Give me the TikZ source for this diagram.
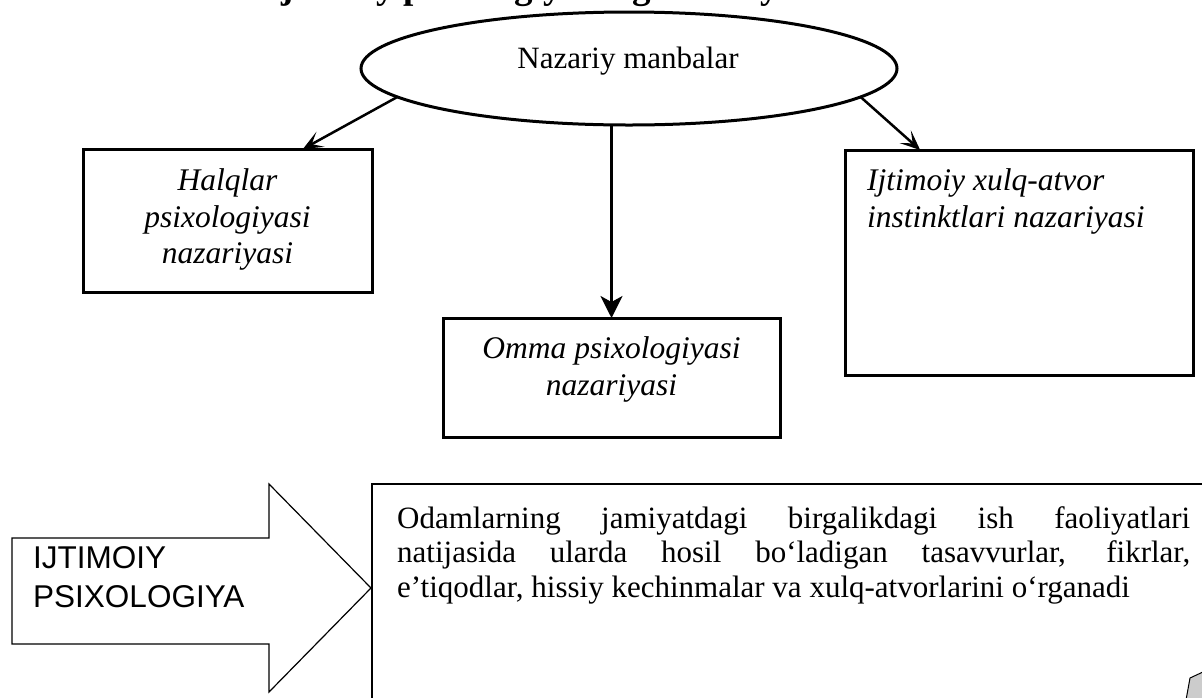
\documentclass[tikz,border=0pt]{standalone}
\usepackage{fontspec}
\setmainfont{Liberation Serif}
\newfontfamily\arialf{Liberation Sans}
\usetikzlibrary{arrows.meta,shapes.geometric,calc}
\begin{document}
\begin{tikzpicture}[x=1pt,y=-1pt,
  boxst/.style={draw,line width=3pt,rectangle,inner sep=0pt,outer sep=0pt},
  itx/.style={font=\fontsize{31.5}{36.5}\selectfont\itshape,anchor=base,inner sep=0pt},
  itxl/.style={font=\fontsize{31.5}{36.5}\selectfont\itshape,anchor=base west,inner sep=0pt},
  rmtx/.style={font=\fontsize{31}{36}\selectfont,anchor=base,inner sep=0pt},
  bodytx/.style={font=\fontsize{31}{35}\selectfont,anchor=base west,inner sep=0pt},
  sftx/.style={font=\arialf\fontsize{31.5}{38}\selectfont,anchor=base west,inner sep=0pt},
  arr/.style={line width=2.5pt},
  sidetip/.style={-{Stealth[length=20pt,width=17pt,inset=10pt]}},
]
\useasboundingbox (0,0) rectangle (1202,697);

% cut-off title
\begin{scope}
\clip (0,0) rectangle (1202,697);
\node[anchor=base west,inner sep=0pt,font=\fontsize{37}{44}\selectfont\bfseries] (title) at (267,-2) {Ijtimoiy psixologiyaning nazariy};
\end{scope}

% ellipse
\node[ellipse,draw,line width=3pt,minimum width=536pt,minimum height=113pt,inner sep=0pt,outer sep=0pt] (ell) at (629,68.5) {};
\node[rmtx] (elltxt) at (628,68) {Nazariy manbalar};

% boxes
\node[boxst,minimum width=289pt,minimum height=143pt] (hal) at (227.5,220.5) {};
\node[itx] (hal1) at (227.5,190) {Halqlar};
\node[itx] (hal2) at (227.5,227) {psixologiyasi};
\node[itx] (hal3) at (227.5,263) {nazariyasi};

\node[boxst,minimum width=337pt,minimum height=119pt] (omma) at (611.5,377.5) {};
\node[itx] (omma1) at (611.5,358) {Omma psixologiyasi};
\node[itx] (omma2) at (611.5,395) {nazariyasi};

\node[boxst,minimum width=348pt,minimum height=225pt] (ijt) at (1019,262.5) {};
\node[itxl] (ijt1) at (867,190) {Ijtimoiy xulq-atvor};
\node[itxl] (ijt2) at (867,227) {instinktlari nazariyasi};

% connectors
\draw[arr,sidetip] (ell.187) -- ($(hal.north west)!0.761!(hal.north east)$);
\draw[arr,sidetip] (ell.353) -- ($(ijt.north west)!0.216!(ijt.north east)$);
\draw[arr,-{Stealth[length=22pt,width=22pt,inset=6pt]}] (ell.south -| omma.north) -- (omma.north);

% big block arrow
\draw[line width=1.2pt,line join=miter] (12,538) -- (269,538) -- (269,484) -- (371,588) -- (269,692) -- (269,644) -- (12,644) -- cycle;
\node[sftx] (ip1) at (33,568) {IJTIMOIY};
\node[sftx] (ip2) at (33,607) {PSIXOLOGIYA};

% bottom box
\begin{scope}
\clip (0,0) rectangle (1202,697);
\draw[line width=1.8pt] (1210,484) -- (372,484) -- (372,705);
\filldraw[fill=gray!40,line width=1pt,line join=round] (1186,700) -- (1190,678) -- (1205,671) -- (1205,700) -- cycle;
\end{scope}
\node[bodytx] (d1) at (397,528) {\makebox[793pt][s]{Odamlarning jamiyatdagi birgalikdagi ish faoliyatlari}};
\node[bodytx] (d2) at (397,562) {\makebox[793pt][s]{natijasida ularda hosil bo‘ladigan tasavvurlar, fikrlar,}};
\node[bodytx] (d3) at (397,597) {e’tiqodlar, hissiy kechinmalar va xulq-atvorlarini o‘rganadi};
\end{tikzpicture}
\end{document}
